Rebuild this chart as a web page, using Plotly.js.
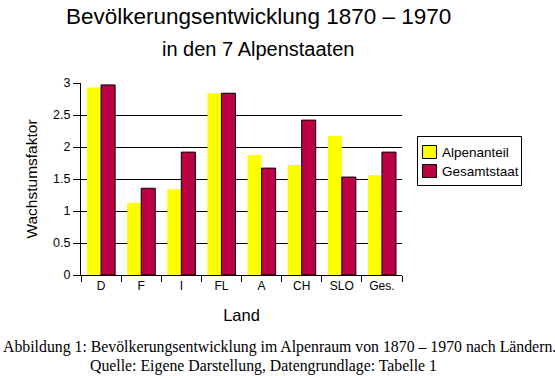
<!DOCTYPE html>
<html>
<head>
<meta charset="utf-8">
<script src="https://cdn.plot.ly/plotly-3.0.1.min.js"></script>
<style>html,body{margin:0;padding:0;background:#fff;}#chart{width:555px;height:376px;}</style>
</head>
<body>
<div id="chart"></div>
<script>
var categories = ["D", "F", "I", "FL", "A", "CH", "SLO", "Ges."];
var seriesNames = ["Alpenanteil", "Gesamtstaat"];
var seriesColors = ["#ffff00", "#bb0044"];
var alpenanteil = [2.93, 1.13, 1.34, 2.84, 1.875, 1.72, 2.17, 1.56];
var gesamtstaat = [2.97, 1.355, 1.92, 2.84, 1.67, 2.42, 1.53, 1.92];
var yTicks = [0, 0.5, 1, 1.5, 2, 2.5, 3];

var L = 81, R = 402, T = 83, B = 275, W = 555, H = 376;
function px(x){ return (x - L) / (R - L); }
function py(y){ return (B - y) / (B - T); }

var sans = "Liberation Sans, Arial, sans-serif";
var serif = "Liberation Serif, Times New Roman, serif";

var traces = [
  {type: "bar", name: seriesNames[0], x: categories, y: alpenanteil,
   marker: {color: seriesColors[0], line: {width: 0}}},
  {type: "bar", name: seriesNames[1], x: categories, y: gesamtstaat,
   marker: {color: seriesColors[1], line: {color: "#000", width: 1}}}
];

// custom legend (box, swatches, labels) in paper coordinates
var shapes = [
  {type: "rect", xref: "paper", yref: "paper",
   x0: px(417.5), x1: px(521.5), y0: py(185.5), y1: py(136.5),
   line: {color: "#000", width: 1}, fillcolor: "rgba(0,0,0,0)"}
];
var legendAnn = [];
var rowTop = [145, 164];
for (var i = 0; i < seriesNames.length; i++) {
  shapes.push({type: "rect", xref: "paper", yref: "paper",
    x0: px(422.5), x1: px(436.5), y0: py(rowTop[i] + 13.5), y1: py(rowTop[i] + 0.5),
    line: {color: "#000", width: 1}, fillcolor: seriesColors[i]});
  legendAnn.push({xref: "paper", yref: "paper", x: px(440), y: py(rowTop[i] + 7),
    xanchor: "left", yanchor: "middle", text: seriesNames[i], showarrow: false,
    font: {family: sans, size: 13.5, color: "#000"}});
}

var layout = {
  width: W, height: H,
  margin: {l: L, r: W - R, t: T, b: H - B, pad: 0},
  paper_bgcolor: "#fff", plot_bgcolor: "#fff",
  font: {family: sans, size: 12, color: "#000"},
  barmode: "group", bargap: 0.3, bargroupgap: 0,
  showlegend: false,
  xaxis: {type: "category", showline: true, linecolor: "#000", linewidth: 1,
          ticks: "outside", tickson: "boundaries", ticklen: 6, tickcolor: "#000",
          showgrid: false, zeroline: false,
          tickfont: {family: sans, size: 12, color: "#000"},
          title: {text: "Land", font: {family: sans, size: 16.5, color: "#000"}, standoff: 17}},
  yaxis: {range: [0, 3], tickvals: yTicks, showline: true, linecolor: "#000", linewidth: 1,
          ticks: "outside", ticklen: 7, tickcolor: "#000",
          showgrid: true, gridcolor: "#000", gridwidth: 1, zeroline: false,
          tickfont: {family: sans, size: 12.5, color: "#000"},
          title: {text: "Wachstumsfaktor", font: {family: sans, size: 15.5, color: "#000"}, standoff: 11}},
  shapes: shapes,
  annotations: [
    {xref: "paper", yref: "paper", x: px(258), y: py(16), xanchor: "center", yanchor: "middle",
     text: "Bevölkerungsentwicklung 1870 – 1970", showarrow: false,
     font: {family: sans, size: 22.5, color: "#000"}},
    {xref: "paper", yref: "paper", x: px(258), y: py(49), xanchor: "center", yanchor: "middle",
     text: "in den 7 Alpenstaaten", showarrow: false,
     font: {family: sans, size: 20, color: "#000"}},
    {xref: "paper", yref: "paper", x: px(1), y: py(347), xanchor: "left", yanchor: "middle",
     text: "Abbildung 1: Bevölkerungsentwicklung im Alpenraum von 1870 – 1970 nach Ländern.", showarrow: false,
     font: {family: serif, size: 15.8, color: "#000"}},
    {xref: "paper", yref: "paper", x: px(88), y: py(366), xanchor: "left", yanchor: "middle",
     text: "Quelle: Eigene Darstellung, Datengrundlage: Tabelle 1", showarrow: false,
     font: {family: serif, size: 15.8, color: "#000"}}
  ].concat(legendAnn)
};

Plotly.newPlot("chart", traces, layout, {staticPlot: true, displayModeBar: false});
</script>
</body>
</html>
